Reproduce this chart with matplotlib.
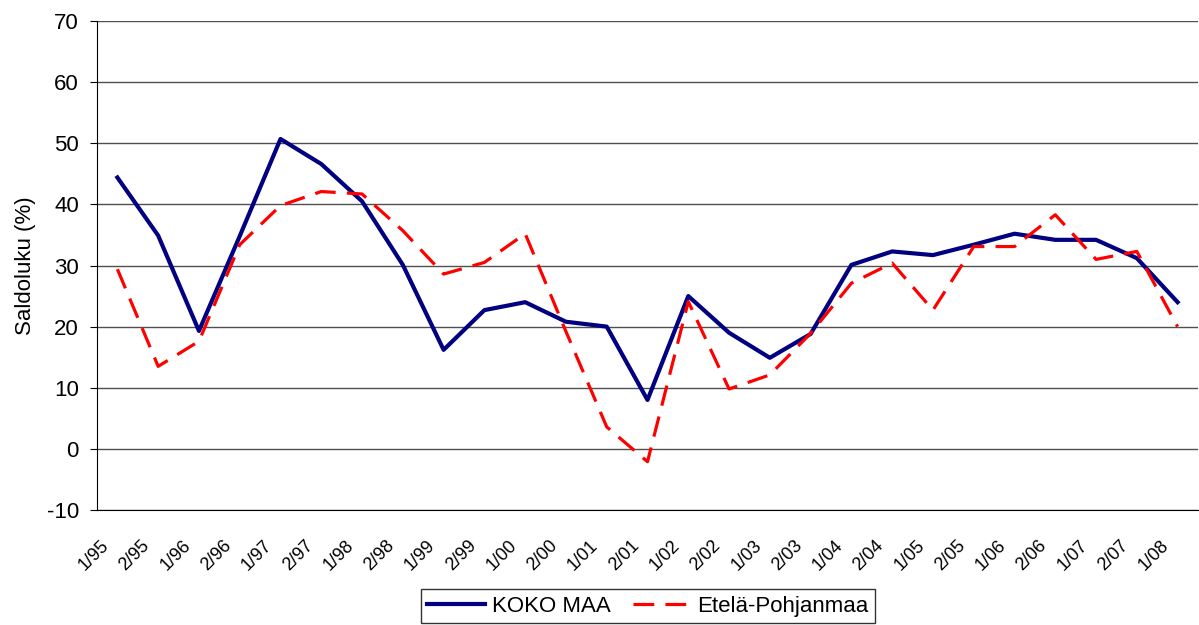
import matplotlib
matplotlib.use("Agg")
import matplotlib.pyplot as plt
import matplotlib.transforms as mtransforms

periods = ["1/95", "2/95", "1/96", "2/96", "1/97", "2/97", "1/98", "2/98", "1/99",
           "2/99", "1/00", "2/00", "1/01", "2/01", "1/02", "2/02", "1/03", "2/03",
           "1/04", "2/04", "1/05", "2/05", "1/06", "2/06", "1/07", "2/07", "1/08"]

koko_maa = [44.4, 34.9, 19.3, 34.8, 50.7, 46.6, 40.5, 30.1, 16.2, 22.7, 24.0, 20.8,
            20.0, 8.0, 25.0, 19.0, 14.9, 18.8, 30.1, 32.3, 31.7, 33.4, 35.2, 34.2,
            34.2, 31.2, 24.0]

etela_pohjanmaa = [29.4, 13.5, 17.6, 33.4, 39.8, 42.1, 41.7, 35.7, 28.6, 30.5, 35.2,
                   19.2, 3.6, -2.1, 24.1, 9.8, 12.1, 18.9, 27.1, 30.4, 22.7, 33.1,
                   33.1, 38.3, 31.0, 32.3, 20.0]

plt.rcParams['font.family'] = ['Liberation Sans', 'DejaVu Sans']
plt.rcParams['axes.unicode_minus'] = False

fig = plt.figure(figsize=(11.99, 6.25), dpi=100)
ax = fig.add_axes([97 / 1199, 115 / 625, 1101 / 1199, 489 / 625])

x = list(range(len(periods)))
ax.plot(x, koko_maa, color="#000080", linewidth=3, label="KOKO MAA", zorder=3)
ax.plot(x, etela_pohjanmaa, color="#FF0000", linewidth=2.3, dashes=(6.5, 3.5),
        label="Etelä-Pohjanmaa", zorder=3)

ax.set_xlim(-0.5, len(periods) - 0.5)
ax.set_ylim(-10, 70)
ax.set_yticks(range(-10, 71, 10))
ax.yaxis.grid(True, color="#505050", linewidth=1)
ax.set_axisbelow(True)

ax.set_xticks(x)
ax.set_xticklabels(periods, rotation=45, ha="right", va="center",
                   rotation_mode="anchor", fontsize=13)
ax.tick_params(axis="x", length=0, pad=0)
shift = mtransforms.ScaledTranslation(-0.11, -0.33, fig.dpi_scale_trans)
for lbl in ax.get_xticklabels():
    lbl.set_transform(lbl.get_transform() + shift)
ax.tick_params(axis="y", length=5, direction="out", labelsize=16, pad=8)

for side in ["top", "right"]:
    ax.spines[side].set_visible(False)
ax.spines["left"].set_color("black")
ax.spines["bottom"].set_color("black")

ax.set_ylabel("Saldoluku (%)", fontsize=16, labelpad=8)

leg = fig.legend(loc="upper center", bbox_to_anchor=(648 / 1199, 1 - 589 / 625), ncol=2,
                 fontsize=16, frameon=True, fancybox=False, edgecolor="black",
                 handlelength=2.6, columnspacing=1.0, handletextpad=0.3, borderpad=0.3,
                 borderaxespad=0)
leg.get_frame().set_linewidth(1)

fig.savefig("out.png", dpi=100)
